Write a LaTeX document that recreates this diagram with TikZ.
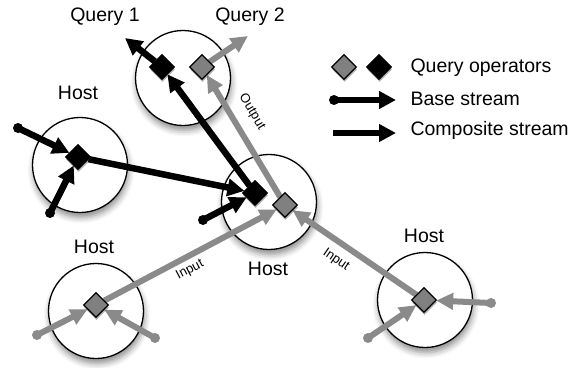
\documentclass[tikz,border=0pt]{standalone}
\usepackage{fontspec}
\setmainfont{Liberation Sans}
\usetikzlibrary{shapes.geometric,arrows.meta,shadows,shadows.blur}
\definecolor{opgray}{RGB}{128,128,128}
\definecolor{argray}{RGB}{138,138,138}
\tikzset{
  hostc/.style={circle,draw=black,line width=1.3pt,fill=white,minimum size=95pt,inner sep=0pt,
    blur shadow={shadow xshift=1pt,shadow yshift=-5pt,shadow blur radius=6pt,shadow opacity=45}},
  opshape/.style={diamond,minimum width=25pt,minimum height=25pt,inner sep=0pt},
  opnode/.style={opshape,draw=black,line width=1.2pt,
    drop shadow={shadow xshift=0.5pt,shadow yshift=-2.5pt,opacity=0.3,fill=black}},
  blackop/.style={opnode,fill=black},
  grayop/.style={opnode,fill=opgray},
  bstream/.style={line width=6.5pt,draw=black,-{Triangle[length=17pt,width=17pt]}},
  gstream/.style={line width=6pt,draw=argray,-{Triangle[length=17pt,width=16pt]}},
  dotb/.style={circle,fill=black,minimum size=10pt,inner sep=0pt},
  dotg/.style={circle,fill=argray,minimum size=10pt,inner sep=0pt},
  lbl/.style={font=\fontsize{19.5}{21}\selectfont},
  slbl/.style={font=\fontsize{13}{14}\selectfont},
}
\begin{document}
\begin{tikzpicture}[x=1pt,y=-1pt]
\useasboundingbox (0,0) rectangle (586,367);
% host circles
\node[hostc] (cq) at (183,78) {};
\node[hostc] (cl) at (80,165) {};
\node[hostc] (cc) at (269,202) {};
\node[hostc] (cb) at (96,311) {};
\node[hostc] (cr) at (425,300) {};
% operator outlines (for connector ends)
\node[opshape] (q1) at (162,67) {};
\node[opshape] (q2) at (202,67) {};
\node[opshape] (dl) at (78,157) {};
\node[opshape] (dcb) at (255,193) {};
\node[opshape] (dcg) at (285,205) {};
\node[opshape] (db) at (96,305) {};
\node[opshape] (dr) at (424,300) {};
% free ends
\coordinate (q1out) at (125,38);
\coordinate (q2out) at (248,36);
\node[dotb] (l1) at (18,128) {};
\node[dotb] (l2) at (50,213) {};
\node[dotb] (c1) at (203,220) {};
\node[dotg] (b1) at (37,335) {};
\node[dotg] (b2) at (155,338) {};
\node[dotg] (r1) at (368,338) {};
\node[dotg] (r2) at (491,303) {};
% streams
\draw[bstream] (l1.center) -- (dl);
\draw[bstream] (l2.center) -- (dl);
\draw[bstream] (c1.center) -- (dcb);
\draw[bstream] (dl) -- (dcb);
\draw[bstream] (dcb) -- (q1);
\draw[bstream] (q1) -- (q1out);
\draw[gstream] (dcg) -- (q2);
\draw[gstream] (q2) -- (q2out);
\draw[gstream] (db) -- (dcg);
\draw[gstream] (dr) -- (dcg);
\draw[gstream] (b1.center) -- (db);
\draw[gstream] (b2.center) -- (db);
\draw[gstream] (r1.center) -- (dr);
\draw[gstream] (r2.center) -- (dr);
% visible operators on top
\node[blackop] (q1v) at (q1) {};
\node[grayop] (q2v) at (q2) {};
\node[blackop] (dlv) at (dl) {};
\node[blackop] (dcbv) at (dcb) {};
\node[grayop] (dcgv) at (dcg) {};
\node[grayop] (dbv) at (db) {};
\node[grayop] (drv) at (dr) {};
% labels
\node[lbl] (tq1) at (105,17) {Query 1};
\node[lbl] (tq2) at (250,17) {Query 2};
\node[lbl] (h1) at (78,93) {Host};
\node[lbl] (h2) at (268,269) {Host};
\node[lbl] (h3) at (94,247) {Host};
\node[lbl] (h4) at (424,236) {Host};
\node[slbl,rotate=28] (in1) at (190,270) {Input};
\node[slbl,rotate=-34.5] (in2) at (336,260) {Input};
\node[slbl,rotate=-59] (out1) at (252,112) {Output};
% legend
\node[grayop] (lg1) at (344,67) {};
\node[blackop] (lg2) at (379,67) {};
\node[lbl,anchor=west] (lt1) at (407,68) {Query operators};
\node[dotb] (ld1) at (334,100) {};
\coordinate (le1) at (396,100);
\draw[bstream] (ld1.center) -- (le1);
\node[lbl,anchor=west] (lt2) at (407,99) {Base stream};
\coordinate (ls2) at (333,133);
\coordinate (le2) at (396,133);
\draw[bstream] (ls2) -- (le2);
\node[lbl,anchor=west] (lt3) at (407,130) {Composite stream};
\end{tikzpicture}
\end{document}
